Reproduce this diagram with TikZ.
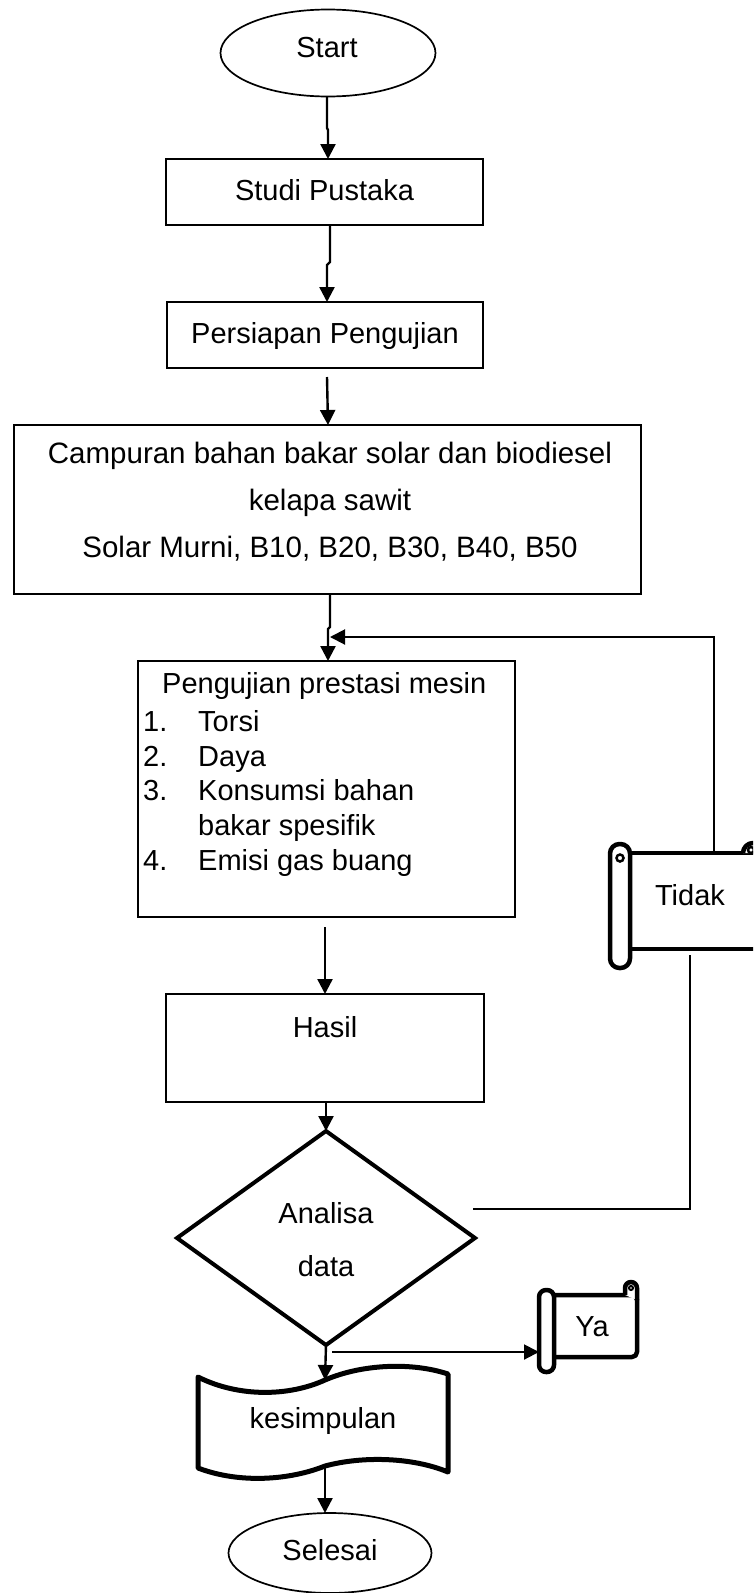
\documentclass[tikz,border=0pt]{standalone}
\usepackage{fontspec}
\setmainfont{Liberation Sans}
\usetikzlibrary{arrows.meta,shapes.geometric}
\begin{document}
\begin{tikzpicture}[x=1pt,y=-1pt,
  every node/.style={font=\fontsize{29}{35}\selectfont, inner sep=0pt},
  box/.style={draw, line width=1.8pt},
  arr/.style={line width=2.4pt, -{Triangle[length=15pt,width=15pt]}},
  fline/.style={line width=1.8pt},
  heavy/.style={line width=4.5pt, line join=round},
  txt/.style={anchor=base},
  camptxt/.style={anchor=base, font=\fontsize{29.5}{35}\selectfont}]
\clip (0,0) rectangle (753,1593);
\fill[white] (0,0) rectangle (753,1593);

% Start
\node[draw, ellipse, line width=1.7pt, minimum width=215pt, minimum height=87pt] (start) at (328,53) {};
\node[txt] (starttxt) at (327,57) {Start};

% Studi Pustaka
\node[box, minimum width=317pt, minimum height=66pt] (studi) at (324.5,192) {};
\node[txt] (studitxt) at (324.5,200) {Studi Pustaka};

% Persiapan
\node[box, minimum width=316pt, minimum height=66pt] (persiapan) at (325,335) {};
\node[txt] (persiapantxt) at (325,343) {Persiapan Pengujian};

% Campuran
\node[box, minimum width=627pt, minimum height=169pt] (campuran) at (327.5,509.5) {};
\node[camptxt] (camp1) at (330,463) {Campuran bahan bakar solar dan biodiesel};
\node[camptxt] (camp2) at (330,510) {kelapa sawit};
\node[camptxt] (camp3) at (330,557) {Solar Murni, B10, B20, B30, B40, B50};

% Pengujian
\node[box, minimum width=377pt, minimum height=256pt] (uji) at (326.5,789) {};
\node[anchor=base west] (uji0) at (162,693) {Pengujian prestasi mesin};
\node[anchor=base west] (n1) at (143,731) {1.};
\node[anchor=base west] (t1) at (198,731) {Torsi};
\node[anchor=base west] (n2) at (143,766) {2.};
\node[anchor=base west] (t2) at (198,766) {Daya};
\node[anchor=base west] (n3) at (143,800) {3.};
\node[anchor=base west] (t3) at (198,800) {Konsumsi bahan};
\node[anchor=base west] (t3b) at (198,835) {bakar spesifik};
\node[anchor=base west] (n4) at (143,870) {4.};
\node[anchor=base west] (t4) at (198,870) {Emisi gas buang};

% Hasil
\node[box, minimum width=318pt, minimum height=108pt] (hasil) at (325,1048) {};
\node[txt] (hasiltxt) at (325,1037) {Hasil};

% Diamond
\coordinate (dT) at (326,1131);
\coordinate (dR) at (475,1238);
\coordinate (dB) at (326,1345);
\coordinate (dL) at (177,1238);
\draw[line width=4pt, line join=miter] (dT) -- (dR) -- (dB) -- (dL) -- cycle;
\node[txt] (ana1) at (326,1223) {Analisa};
\node[txt] (ana2) at (326,1276) {data};

% Tidak scroll
\draw[heavy, fill=white] (625,853) -- (770,853) -- (770,949) -- (625,949) -- cycle;
\draw[heavy, fill=white] (743,853) arc[start angle=180, end angle=360, radius=10];
\draw[line width=2.5pt] (751,850) circle (3);
\draw[heavy, fill=white, rounded corners=9.5pt] (610,844) rectangle (630,968);
\draw[line width=2.5pt] (620,858) circle (3.5);
\node[txt] (tidak) at (690,905) {Tidak};
\coordinate (tidakTop) at (714,853);
\coordinate (tidakBot) at (690,955);

% Ya scroll
\draw[heavy, fill=white, rounded corners=5pt] (546,1295) -- (637,1295) -- (637,1357) -- (546,1357) -- cycle;
\draw[heavy, fill=white] (625,1295) -- (625,1288) arc[start angle=180, end angle=360, radius=6] -- (637,1300);
\draw[line width=2pt] (631,1288) circle (2);
\draw[heavy, fill=white, rounded corners=7pt] (539,1290) rectangle (554,1372);
\node[txt] (ya) at (592,1336) {Ya};

% kesimpulan (punched tape)
\draw[line width=5pt, fill=white, line join=round]
  (198,1377) .. controls (240,1398) and (290,1396) .. (325,1380)
  .. controls (362,1364) and (412,1362) .. (448,1374)
  -- (448,1472)
  .. controls (412,1457) and (362,1456) .. (325,1466)
  .. controls (290,1480) and (240,1484) .. (198,1468) -- cycle;
\node[txt] (kes) at (323,1428) {kesimpulan};

% Selesai
\node[draw, ellipse, line width=1.7pt, minimum width=203pt, minimum height=80pt] (selesai) at (330,1553) {};
\node[txt] (selesaitxt) at (330,1560) {Selesai};

% connectors
\coordinate (a1s) at (327,97);
\coordinate (a1m) at (327,128);
\coordinate (a1n) at (328,130);
\coordinate (a1e) at (328,159);
\draw[arr] (a1s) -- (a1m) -- (a1n) -- (a1e);

\coordinate (a2s) at (330,225);
\coordinate (a2m) at (330,262);
\coordinate (a2n) at (327,265);
\coordinate (a2e) at (327,302);
\draw[arr] (a2s) -- (a2m) -- (a2n) -- (a2e);

\coordinate (a3s) at (327,377);
\coordinate (a3e) at (328,425);
\draw[arr] (a3s) -- (a3e);

\coordinate (a4s) at (330,594);
\coordinate (a4m) at (330,627);
\coordinate (a4n) at (328,629);
\coordinate (a4e) at (328,661);
\draw[arr] (a4s) -- (a4m) -- (a4n) -- (a4e);

\coordinate (a5s) at (325,927);
\coordinate (a5e) at (325,994);
\draw[arr] (a5s) -- (a5e);

\coordinate (a6s) at (326,1102);
\coordinate (a6e) at (326,1131);
\draw[arr] (a6s) -- (a6e);

% feedback loop
\coordinate (fbA) at (473,1209);
\coordinate (fbB) at (690,1209);
\draw[fline] (fbA) -- (fbB) -- (tidakBot);
\coordinate (fbC) at (714,637);
\coordinate (fbD) at (330,637);
\draw[line width=2pt, -{Triangle[length=15pt,width=15pt]}] (tidakTop) -- (fbC) -- (fbD);

% to kesimpulan
\coordinate (a7e) at (325,1380);
\draw[arr] (dB) -- (a7e);

% Ya arrow
\coordinate (yaS) at (332,1352);
\coordinate (yaE) at (539,1352);
\draw[line width=2pt, -{Triangle[length=15pt,width=15pt]}] (yaS) -- (yaE);

% to Selesai
\coordinate (a8s) at (325,1468);
\coordinate (a8e) at (325,1513);
\draw[arr] (a8s) -- (a8e);
\end{tikzpicture}
\end{document}
